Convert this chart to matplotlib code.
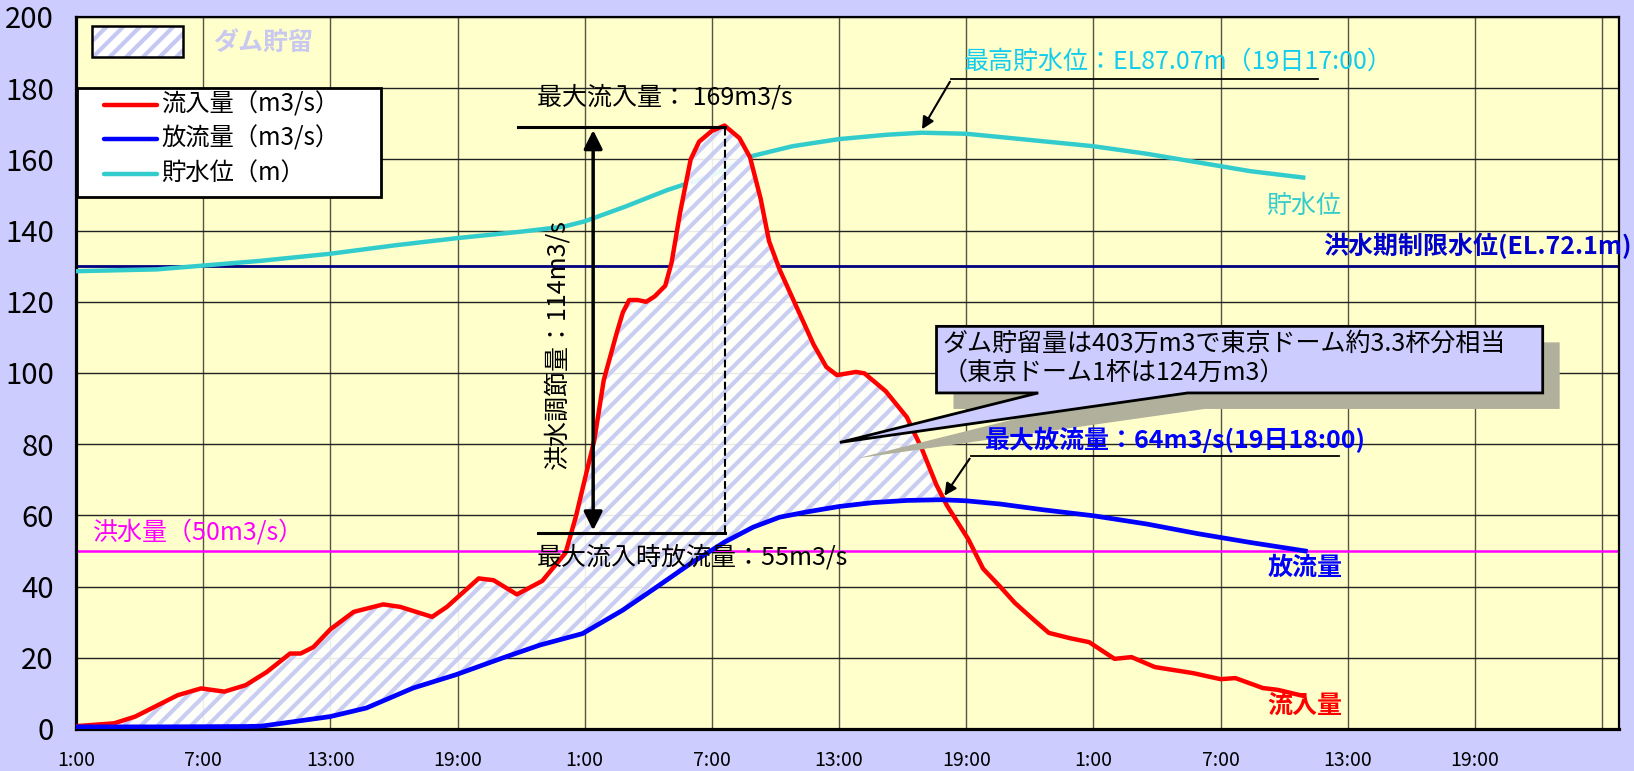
import matplotlib.pyplot as plt
from matplotlib.patches import Rectangle, Polygon
import numpy as np

plt.rcParams['font.family'] = ['Noto Sans CJK JP', 'DejaVu Sans']
plt.rcParams['hatch.linewidth'] = 3.0

# time axis: hours counted from 1:00 of the first day
t_in = [0, 1.8, 2.8, 4.8, 5.9, 7.0, 8.0, 9.0, 10.1, 10.6, 11.2, 12.0, 13.1, 14.5, 15.3,
        16.8, 17.5, 19.0, 19.7, 20.8, 22.0, 23.1, 23.6, 24.0, 24.45, 24.9, 25.5, 25.8,
        26.1, 26.5, 26.9, 27.3, 27.8, 28.1, 28.5, 29.0, 29.4, 30.0, 30.6, 31.3, 31.8,
        32.3, 32.7, 33.2, 34.0, 34.8, 35.4, 35.9, 36.8, 37.2, 38.2, 39.2, 39.9, 40.6,
        41.1, 42.1, 42.8, 43.6, 44.3, 45.2, 45.9, 46.9, 47.8, 49.0, 49.8, 50.9, 52.7,
        54.0, 54.7, 56.0, 56.7, 57.9]
inflow = [0.8, 1.6, 3.5, 9.5, 11.4, 10.5, 12.3, 16.0, 21.2, 21.2, 23.0, 28.0, 32.9, 35.0,
          34.3, 31.5, 34.3, 42.3, 41.8, 37.8, 41.6, 49.5, 60.0, 70.0, 81.0, 98.0, 111.0,
          117.0, 120.5, 120.5, 120.0, 121.5, 124.5, 131.0, 145.0, 160.0, 165.0, 168.0,
          169.5, 166.0, 160.6, 149.0, 137.0, 129.0, 118.5, 108.0, 101.7, 99.4, 100.3,
          99.9, 94.9, 87.6, 78.8, 68.5, 62.7, 53.3, 45.0, 40.0, 35.4, 30.6, 27.0, 25.5,
          24.4, 19.7, 20.2, 17.4, 15.7, 14.0, 14.3, 11.5, 11.0, 9.3]

t_out = [0, 4, 8, 8.75, 10.2, 12, 13.7, 15.9, 17.9, 20.1, 21.9, 23.9, 25.8, 27.4, 29.0,
         30.6, 31.95, 33.2, 34.5, 36.0, 37.6, 39.2, 40.8, 42.0, 43.6, 45.6, 48.0, 50.5,
         52.9, 55.4, 58.0]
outflow = [0.6, 0.6, 0.7, 0.8, 2.0, 3.5, 5.9, 11.5, 15.2, 19.9, 23.6, 26.8, 33.4, 39.9,
           46.5, 52.5, 56.7, 59.5, 61.0, 62.5, 63.6, 64.2, 64.4, 64.1, 63.2, 61.6, 59.9,
           57.6, 54.9, 52.4, 50.0]

t_lvl = [0, 3.8, 8.7, 12, 15.1, 18, 21, 23, 24, 25.9, 27.9, 30, 31.8, 33.8, 36, 38.2,
         39.9, 42, 44.6, 48, 50.5, 53.4, 55.4, 57.9]
level = [128.6, 129.1, 131.5, 133.5, 135.9, 137.9, 139.7, 141.1, 142.6, 146.7, 151.4,
         155.5, 160.8, 163.7, 165.7, 166.9, 167.5, 167.2, 165.7, 163.7, 161.6, 158.7,
         156.7, 154.9]

flood_flow = 50
limit_level = 130
x_ticks = [0, 6, 12, 18, 24, 30, 36, 42, 48, 54, 60, 66]
x_labels = ['1:00', '7:00', '13:00', '19:00'] * 3

fig = plt.figure(figsize=(16.34, 7.71), dpi=100, facecolor='#ccccff')
L, R, T, B = 76, 1619, 17, 729
ax = fig.add_axes([L / 1634, 1 - B / 771, (R - L) / 1634, (B - T) / 771])
ax.set_facecolor('#ffffcc')
ax.set_xlim(0, 72.8)
ax.set_ylim(0, 200)


def pa(x, y):
    # full-size pixel position -> axes fraction
    return (x - L) / (R - L), (B - y) / (B - T)


ax.set_yticks(range(0, 201, 20))
ax.set_xticks(x_ticks + [72])
ax.set_xticklabels(x_labels + [''])
ax.tick_params(axis='y', length=0, labelsize=21, pad=16)
ax.tick_params(axis='x', length=0, labelsize=14, pad=15)
ax.grid(axis='y', color='#222222', lw=1)
ax.grid(axis='x', color='#555544', lw=1)
ax.set_axisbelow(True)
for side in ['left', 'bottom']:
    ax.spines[side].set_linewidth(2.3)
for side in ['top', 'right']:
    ax.spines[side].set_linewidth(1.6)

ax.axhline(limit_level, color='#000080', lw=2, zorder=2)
ax.axhline(flood_flow, color='#ff00ff', lw=1.8, zorder=2)

ax.plot(t_lvl, level, color='#33cccc', lw=3.2, zorder=3)

tt = np.linspace(0, 58, 3000)
fin = np.interp(tt, t_in, inflow)
fout = np.interp(tt, t_out, outflow)
ax.fill_between(tt, fin, fout, where=fin > fout, interpolate=True, facecolor='#ffffff',
                edgecolor='#c4c8f2', hatch='//', lw=0, alpha=0.9, zorder=4)

ax.plot(t_in, inflow, color='#ff0000', lw=3.2, zorder=5)
ax.plot(t_out, outflow, color='#0000ff', lw=3.4, zorder=5)

# peak inflow markers
ax.plot([20.85, 30.6], [169, 169], color='black', lw=2.2, zorder=6)
ax.plot([21.8, 30.6], [55, 55], color='black', lw=2.2, zorder=6)
ax.plot([30.6, 30.6], [55, 169], color='black', lw=1.5, ls='--', zorder=6)
ax.annotate('', xy=(24.4, 55), xytext=(24.4, 169),
            arrowprops=dict(arrowstyle='<|-|>', color='black', lw=2.5, mutation_scale=28),
            zorder=6)
ax.text(21.75, 177.3, '最大流入量： 169m3/s', fontsize=18, va='center', ha='left', zorder=7)
ax.text(21.75, 48.3, '最大流入時放流量：55m3/s', fontsize=18, va='center', ha='left', zorder=7)
ax.text(22.7, 108, '洪水調節量：114m3/s', fontsize=18, rotation=90, va='center',
        ha='center', zorder=7)

# max storage level
ax.text(41.9, 187.4, '最高貯水位：EL87.07m（19日17:00）', fontsize=18, color='#11ccee',
        va='center', ha='left')
ax.plot([41.3, 58.6], [182.5, 182.5], color='black', lw=1.3)
ax.annotate('', xy=(39.85, 167.8), xytext=(41.3, 182.5),
            arrowprops=dict(arrowstyle='-|>', color='black', lw=1.5, mutation_scale=18))

# max outflow
ax.text(42.9, 81.1, '最大放流量：64m3/s(19日18:00)', fontsize=18, color='#0000ff',
        fontweight='bold', va='center', ha='left', zorder=8)
ax.plot([42.24, 59.6], [76.6, 76.6], color='black', lw=1.3)
ax.annotate('', xy=(40.9, 64.9), xytext=(42.24, 76.6),
            arrowprops=dict(arrowstyle='-|>', color='black', lw=1.5, mutation_scale=18))

# callout
call = [(40.6, 113.1), (69.2, 113.1), (69.2, 94.4), (52.45, 94.4), (36.04, 80.5),
        (45.4, 94.4), (40.6, 94.4)]
shadow = [(x + 0.8, y - 4.5) for x, y in call]
ax.add_patch(Polygon(shadow, closed=True, facecolor='#b0b09c', edgecolor='none', zorder=6))
ax.add_patch(Polygon(call, closed=True, facecolor='#ccccff', edgecolor='black', lw=2,
                     zorder=7))
ax.text(40.87, 108.3, 'ダム貯留量は403万m3で東京ドーム約3.3杯分相当', fontsize=18,
        va='center', ha='left', zorder=8)
ax.text(40.87, 100.1, '（東京ドーム1杯は124万m3）', fontsize=18, va='center', ha='left',
        zorder=8)

# series labels
ax.text(57.9, 147, '貯水位', fontsize=18, color='#33cccc', ha='center', va='center')
ax.text(58, 45.2, '放流量', fontsize=18, color='#0000ff', fontweight='bold',
        ha='center', va='center')
ax.text(58, 6.5, '流入量', fontsize=18, color='#ff0000', fontweight='bold',
        ha='center', va='center')
ax.text(73.4, 135.6, '洪水期制限水位(EL.72.1m)', fontsize=18, color='#0000cc',
        fontweight='bold', ha='right', va='center', clip_on=False)
ax.text(0.8, 55.3, '洪水量（50m3/s）', fontsize=18, color='#ff00ff', ha='left', va='center')

# legend, drawn by hand
x0, y0 = pa(92, 57)
x1, y1 = pa(183, 26)
ax.add_patch(Rectangle((x0, y0), x1 - x0, y1 - y0, transform=ax.transAxes,
                       facecolor='#ffffff', edgecolor='#c4c8f2', hatch='//', lw=0, zorder=9))
ax.add_patch(Rectangle((x0, y0), x1 - x0, y1 - y0, transform=ax.transAxes,
                       facecolor='none', edgecolor='black', lw=1.8, zorder=9))
ax.text(*pa(213, 43), 'ダム貯留', transform=ax.transAxes, fontsize=18, color='#c8c8f0',
        fontweight='bold', va='center', ha='left', zorder=9)

bx0, by0 = pa(77, 197)
bx1, by1 = pa(381, 88)
ax.add_patch(Rectangle((bx0, by0), bx1 - bx0, by1 - by0, transform=ax.transAxes,
                       facecolor='white', edgecolor='black', lw=2, zorder=9))
leg = [('#ff0000', '流入量（m3/s）', 105), ('#0000ff', '放流量（m3/s）', 139),
       ('#33cccc', '貯水位（m）', 174)]
for col, lab, yy in leg:
    lx0, ly = pa(104, yy)
    lx1, _ = pa(157, yy)
    ax.plot([lx0, lx1], [ly, ly], color=col, lw=3.2, transform=ax.transAxes,
            solid_capstyle='round', zorder=10)
    ax.text(*pa(161, yy), lab, transform=ax.transAxes, fontsize=17.5, va='center',
            ha='left', zorder=10)

fig.savefig('out.png', dpi=100, facecolor=fig.get_facecolor())
